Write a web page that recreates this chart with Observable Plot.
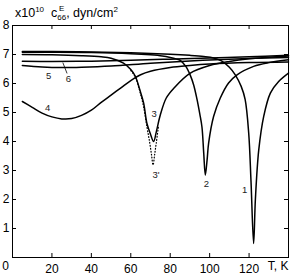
<!DOCTYPE html>
<html><head><meta charset="utf-8">
<script src="https://cdn.jsdelivr.net/npm/d3@7"></script>
<script src="https://cdn.jsdelivr.net/npm/@observablehq/plot@0.6"></script>
<style>body{margin:0;background:#fff}</style>
</head><body><div id="chart"></div>
<script>
// Curve 1
const t1 = [5, 20, 40, 60, 80, 90, 97, 102, 106, 110, 113, 116, 118, 119.8, 121, 122.3, 123.2, 124.9, 127.4, 130.8, 135, 140];
const c1 = [7.1, 7.1, 7.09, 7.06, 7.01, 6.97, 6.93, 6.88, 6.78, 6.56, 6.3, 5.9, 5.45, 4.3, 2.6, 0.48, 2.0, 3.7, 4.86, 5.67, 6.07, 6.36];
// Curve 2
const t2 = [5, 20, 40, 60, 70, 76, 80, 83, 85.1, 88, 90.2, 91.9, 93.6, 95, 96.1, 97, 97.8, 98.7, 99.5, 102, 105.4, 109.6, 113.9, 122.3, 130, 140];
const c2 = [7.08, 7.08, 7.07, 7.03, 6.99, 6.95, 6.9, 6.85, 6.8, 6.58, 6.28, 5.95, 5.45, 4.95, 4.5, 3.6, 2.84, 3.36, 3.95, 4.86, 5.5, 6.02, 6.3, 6.59, 6.72, 6.82];
// Curve 3
const t3 = [5, 20, 35, 45, 50, 56.3, 60, 62.3, 64.5, 66.5, 68.2, 70, 71.6, 73, 75, 78, 82, 90, 100, 110, 120, 140];
const c3 = [7.0, 6.99, 6.96, 6.92, 6.87, 6.7, 6.48, 6.25, 5.8, 5.33, 4.62, 4.25, 4.0, 4.35, 4.92, 5.5, 5.85, 6.35, 6.62, 6.76, 6.85, 6.95];
// Curve 3' (dotted)
const t3p = [60, 62.3, 64.5, 66.5, 68.2, 69.5, 70.5, 71.3, 72.1, 72.9, 74];
const c3p = [6.45, 6.22, 5.75, 5.2, 4.5, 4.0, 3.55, 3.19, 3.55, 3.94, 4.5];
// Curve 4
const t4 = [5, 10, 15, 20, 25, 30, 35, 40, 45, 50, 55, 60, 65, 70, 80, 90, 100, 120, 140];
const c4 = [5.38, 5.18, 4.98, 4.85, 4.78, 4.79, 4.9, 5.08, 5.35, 5.6, 5.85, 6.1, 6.3, 6.42, 6.55, 6.62, 6.67, 6.72, 6.74];
// Curve 5
const t5 = [5, 15, 25, 35, 50, 70, 90, 110, 140];
const c5 = [6.62, 6.57, 6.55, 6.56, 6.6, 6.7, 6.78, 6.84, 6.9];
// Curve 6
const t6 = [5, 20, 40, 60, 80, 100, 120, 140];
const c6 = [6.77, 6.76, 6.77, 6.8, 6.84, 6.88, 6.92, 6.97];

const xTicks = [0, 20, 40, 60, 80, 100, 120, 140];
const xTickLabels = [20, 40, 60, 80, 100, 120];
const yTicks = [1, 2, 3, 4, 5, 6, 7, 8];
const xEdgeLabels = ["0", "T, K"];
const xEdgeT = [0, 140];

const labelText = ["1", "2", "3", "3'", "4", "5", "6"];
const labelT = [117.8, 98.3, 71.8, 72.8, 17.8, 18.3, 28.4];
const labelV = [2.33, 2.52, 4.95, 2.84, 5.17, 6.27, 6.16];
const leaderT = [25.6, 27.6];
const leaderV = [6.71, 6.36];

const mk = (t, v) => t.map((d, i) => ({T: d, v: v[i]}));
const solid = [mk(t1, c1), mk(t2, c2), mk(t3, c3), mk(t4, c4), mk(t5, c5), mk(t6, c6)];
const labels = labelText.map((s, i) => ({s, T: labelT[i], v: labelV[i]}));
const edge = xEdgeLabels.map((s, i) => ({s, T: xEdgeT[i]}));

const W = 298, H = 276, mT = 25, mB = 19, mL = 12, mR = 10;
const fh = H - mT - mB, fw = W - mL - mR;
const FONT = "Liberation Sans, Arial, sans-serif";

const marks = [
  ...solid.map(d => Plot.line(d, {x: "T", y: "v", stroke: "black", strokeWidth: 1.5, curve: "catmull-rom"})),
  Plot.line(mk(t3p, c3p), {x: "T", y: "v", stroke: "black", strokeWidth: 1.2, strokeDasharray: "0.8,2.2", curve: "catmull-rom"}),
  Plot.line(mk(leaderT, leaderV), {x: "T", y: "v", stroke: "black", strokeWidth: 0.8}),
  Plot.text(labels, {x: "T", y: "v", text: "s", fontSize: 9.5, fill: "#222"}),
  Plot.tickX(xTicks, {x: d => d, insetTop: fh - 4, stroke: "black"}),
  Plot.tickX(xTicks, {x: d => d, insetBottom: fh - 4, stroke: "black"}),
  Plot.tickY(yTicks, {y: d => d, insetRight: fw - 4, stroke: "black"}),
  Plot.tickY(yTicks, {y: d => d, insetLeft: fw - 4, stroke: "black"}),
  Plot.axisX(xTickLabels, {tickSize: 0, tickPadding: 7, fontSize: 12, label: null}),
  Plot.axisY(yTicks, {tickSize: 0, tickPadding: 3, fontSize: 12, label: null}),
  Plot.text(edge.slice(0, 1), {x: "T", text: "s", frameAnchor: "bottom", dy: 12, dx: -7, fontSize: 12}),
  Plot.text(edge.slice(1), {x: "T", text: "s", frameAnchor: "bottom", textAnchor: "end", dy: 12, fontSize: 12}),
  Plot.frame({stroke: "black"})
];

const chart = Plot.plot({
  width: W, height: H,
  marginTop: mT, marginBottom: mB, marginLeft: mL, marginRight: mR,
  x: {domain: [0, 140], axis: null, label: null},
  y: {domain: [0, 8], axis: null, label: null},
  style: {fontFamily: FONT, fontSize: "12px", background: "white", color: "black"},
  marks
});
document.getElementById("chart").appendChild(chart);

const svg = d3.select(chart);
const title = svg.append("text").attr("x", 15).attr("y", 17).attr("text-anchor", "start")
  .style("font-family", FONT).style("font-size", "12.5px").attr("fill", "black");
title.append("tspan").text("x10");
title.append("tspan").attr("dy", -5).style("font-size", "8px").text("10");
title.append("tspan").attr("dy", 5).text("\u00a0\u00a0c");
title.append("tspan").attr("dy", 3).style("font-size", "8px").text("66");
title.append("tspan").attr("dy", -3).text(", dyn/cm");
title.append("tspan").attr("dy", -5).style("font-size", "8px").text("2");
svg.append("text").attr("x", 59).attr("y", 11).attr("text-anchor", "start")
  .style("font-family", FONT).style("font-size", "8px").attr("fill", "black").text("E");
</script></body></html>
